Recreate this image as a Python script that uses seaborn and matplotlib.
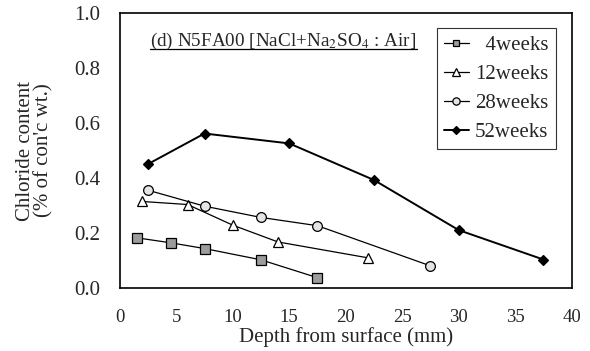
# Chloride content profiles, N5FA00 [NaCl+Na2SO4 : Air]

import pandas as pd
import seaborn as sns
import matplotlib.pyplot as plt

# depth (mm) and chloride content (% of con'c wt.) per exposure period
depth_4w = [1.5, 4.5, 7.5, 12.5, 17.5]
cl_4w = [0.183, 0.165, 0.144, 0.103, 0.038]

depth_12w = [2.0, 6.0, 10.0, 14.0, 22.0]
cl_12w = [0.315, 0.304, 0.229, 0.168, 0.11]

depth_28w = [2.5, 7.5, 12.5, 17.5, 27.5]
cl_28w = [0.356, 0.298, 0.257, 0.227, 0.081]

depth_52w = [2.5, 7.5, 15.0, 22.5, 30.0, 37.5]
cl_52w = [0.451, 0.562, 0.526, 0.393, 0.211, 0.104]

labels = ["  4weeks", "12weeks", "28weeks", "52weeks"]
x_ticks = [0, 5, 10, 15, 20, 25, 30, 35, 40]
y_ticks = [0.0, 0.2, 0.4, 0.6, 0.8, 1.0]

frames = []
for lab, d, c in zip(labels, [depth_4w, depth_12w, depth_28w, depth_52w],
                     [cl_4w, cl_12w, cl_28w, cl_52w]):
    frames.append(pd.DataFrame({"depth": d, "cl": c, "period": lab}))
df = pd.concat(frames, ignore_index=True)

sns.set_style("white")
plt.rcParams["font.family"] = ["Liberation Serif", "DejaVu Serif"]
plt.rcParams["mathtext.fontset"] = "stix"

fig = plt.figure(figsize=(5.9, 3.51), dpi=100)
ax = fig.add_axes([0.203, 0.179, 0.766, 0.784])

styles = {
    "  4weeks": dict(marker="s", mfc="#9c9c9c", ms=6.5, lw=0.9),
    "12weeks": dict(marker="^", mfc="white", ms=7, lw=0.9),
    "28weeks": dict(marker="o", mfc="#e4e4e4", ms=7, lw=0.9),
    "52weeks": dict(marker="D", mfc="black", ms=5.5, lw=1.4),
}

for lab in labels:
    st = styles[lab]
    sub = df[df["period"] == lab]
    sns.lineplot(data=sub, x="depth", y="cl", ax=ax, color="black",
                 marker=st["marker"], markerfacecolor=st["mfc"],
                 markeredgecolor="black", markeredgewidth=0.9,
                 markersize=st["ms"], linewidth=st["lw"], label=lab)

ax.set_xlim(0, 40)
ax.set_ylim(0, 1.0)
ax.set_xticks(x_ticks)
ax.set_yticks(y_ticks)
ax.set_yticklabels([f"{v:.1f}" for v in y_ticks])
ax.tick_params(direction="in", length=2, width=0.8)
ax.tick_params(axis="x", labelsize=13.5, pad=15)
ax.tick_params(axis="y", labelsize=15, pad=14)
for s in ax.spines.values():
    s.set_color("black")
    s.set_linewidth(1.2)

ax.set_xlabel("Depth from surface (mm)", fontsize=15, labelpad=1)
ax.set_ylabel("Chloride content\n(% of con'c wt.)", fontsize=15,
              linespacing=0.9, labelpad=15)

ax.text(0.066, 0.88, r"(d) N5FA00 [NaCl+Na$_2$SO$_4$ : Air]",
        transform=ax.transAxes, fontsize=13.8, ha="left", va="baseline")
ax.plot([0.066, 0.658], [0.868, 0.868], transform=ax.transAxes,
        color="black", lw=0.9)

leg = ax.legend(loc="upper right", bbox_to_anchor=(0.965, 0.945), fontsize=15,
                frameon=True, fancybox=False, handlelength=1.2,
                handletextpad=0.3, borderpad=0.35, labelspacing=0.45,
                markerscale=0.75, borderaxespad=0)
leg.get_frame().set_edgecolor("black")
leg.get_frame().set_linewidth(0.8)

plt.savefig("out.png", dpi=100)
